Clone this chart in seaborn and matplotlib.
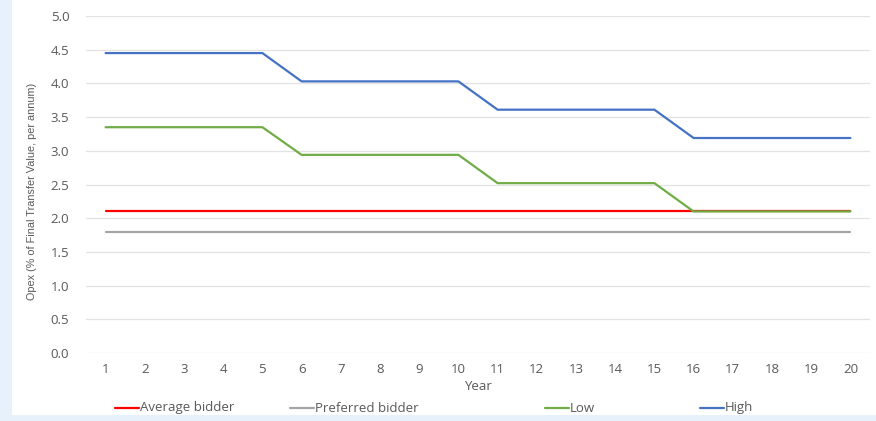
import matplotlib
matplotlib.use("Agg")
import matplotlib.pyplot as plt
from matplotlib.lines import Line2D
from matplotlib.patches import Rectangle
import seaborn as sns
import pandas as pd

years = list(range(1, 21))
average_bidder = [2.10] * 20
preferred_bidder = [1.80] * 20
low = [3.35] * 5 + [2.94] * 5 + [2.52] * 5 + [2.10] * 5
high = [4.45] * 5 + [4.03] * 5 + [3.61] * 5 + [3.19] * 5

series_names = ["Average bidder", "Preferred bidder", "Low", "High"]
series_values = [average_bidder, preferred_bidder, low, high]
colors = ["#FF0000", "#A5A5A5", "#70AD47", "#4472C4"]
y_ticks = [0.0, 0.5, 1.0, 1.5, 2.0, 2.5, 3.0, 3.5, 4.0, 4.5, 5.0]

frames = [pd.DataFrame({"Year": years, "Opex": vals, "Series": name})
          for name, vals in zip(series_names, series_values)]
df = pd.concat(frames, ignore_index=True)

sns.set_theme(style="white")
plt.rcParams["font.family"] = ["Open Sans", "DejaVu Sans"]

fig = plt.figure(figsize=(8.76, 4.21), dpi=100)
fig.patch.set_facecolor("white")
# light blue frame strips at the left and bottom edges
fig.add_artist(Rectangle((0, 0), 12 / 876, 1, transform=fig.transFigure,
                         facecolor="#E6F1FC", edgecolor="none", zorder=0))
fig.add_artist(Rectangle((0, 0), 1, 6 / 421, transform=fig.transFigure,
                         facecolor="#E6F1FC", edgecolor="none", zorder=0))

ax = fig.add_axes([86 / 876, 68 / 421, 784 / 876, 337 / 421])
sns.lineplot(data=df, x="Year", y="Opex", hue="Series", hue_order=series_names,
             palette=colors, linewidth=1.6, legend=False, ax=ax)

ax.set_xlim(0.5, 20.5)
ax.set_ylim(0, 5.0)
ax.set_xticks(years)
ax.set_xticklabels([str(y) for y in years])
ax.set_yticks(y_ticks)
ax.set_yticklabels([f"{t:.1f}" for t in y_ticks])
ax.grid(axis="y", color="#E3E3E3", linewidth=0.9)
ax.set_axisbelow(True)
for s in ax.spines.values():
    s.set_visible(False)
ax.tick_params(axis="both", length=0, labelsize=9.5, colors="#595959")
ax.tick_params(axis="x", pad=7)
ax.tick_params(axis="y", pad=12)

ax.set_xlabel("Year", fontsize=9.5, color="#595959", labelpad=3)
ax.set_ylabel("Opex (% of Final Transfer Value, per annum)", fontsize=7.8,
              color="#595959", family=["Liberation Sans", "DejaVu Sans"])
ax.yaxis.set_label_coords(-0.062, 0.478)

# legend row beneath the axis title
legend_x = [115, 290, 545, 700]
ly = 1 - 408 / 421
for x0, name, c in zip(legend_x, series_names, colors):
    fig.add_artist(Line2D([x0 / 876, (x0 + 24) / 876], [ly, ly],
                          transform=fig.transFigure, color=c, linewidth=1.6))
    fig.text((x0 + 25) / 876, ly, name, fontsize=9.5, color="#595959",
             va="center", ha="left")

fig.savefig("out.png", dpi=100, facecolor=fig.get_facecolor())
